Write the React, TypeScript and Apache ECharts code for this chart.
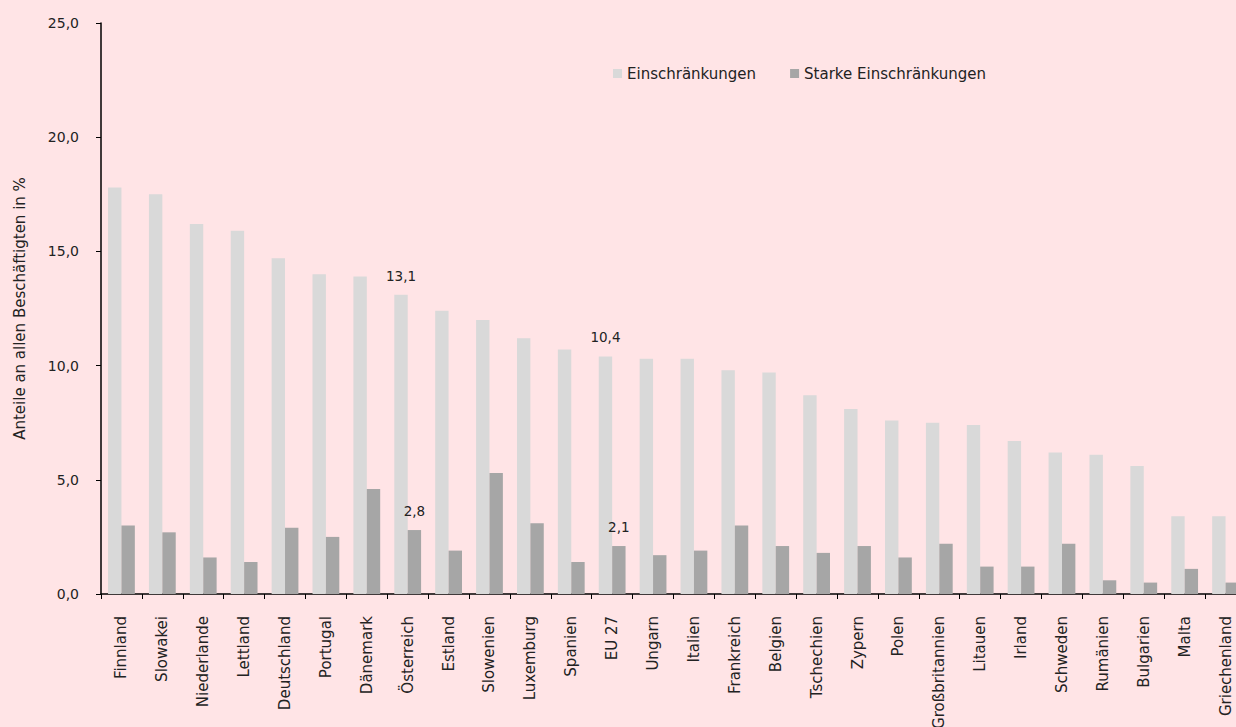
import React, { useEffect, useRef } from "react";
import * as echarts from "echarts";

const categories = [
  "Finnland", "Slowakei", "Niederlande", "Lettland", "Deutschland", "Portugal", "Dänemark",
  "Österreich", "Estland", "Slowenien", "Luxemburg", "Spanien", "EU 27", "Ungarn", "Italien",
  "Frankreich", "Belgien", "Tschechien", "Zypern", "Polen", "Großbritannien", "Litauen",
  "Irland", "Schweden", "Rumänien", "Bulgarien", "Malta", "Griechenland",
];

const einschraenkungen = [
  17.8, 17.5, 16.2, 15.9, 14.7, 14.0, 13.9,
  13.1, 12.4, 12.0, 11.2, 10.7, 10.4, 10.3, 10.3,
  9.8, 9.7, 8.7, 8.1, 7.6, 7.5, 7.4,
  6.7, 6.2, 6.1, 5.6, 3.4, 3.4,
];

const starkeEinschraenkungen = [
  3.0, 2.7, 1.6, 1.4, 2.9, 2.5, 4.6,
  2.8, 1.9, 5.3, 3.1, 1.4, 2.1, 1.7, 1.9,
  3.0, 2.1, 1.8, 2.1, 1.6, 2.2, 1.2,
  1.2, 2.2, 0.6, 0.5, 1.1, 0.5,
];

const labeledCategories = ["Österreich", "EU 27"];
const yTicks = { min: 0, max: 25, interval: 5 };

const FONT = "DejaVu Sans";
const TEXT = "#222222";

function withLabels(values: number[]) {
  return values.map((v, i) =>
    labeledCategories.includes(categories[i])
      ? {
          value: v,
          label: {
            show: true,
            position: "top",
            distance: 12,
            color: TEXT,
            fontFamily: FONT,
            fontSize: 13.5,
            formatter: (p: any) => Number(p.value).toFixed(1).replace(".", ","),
          },
        }
      : v
  );
}

export default function App() {
  const ref = useRef<HTMLDivElement>(null);
  useEffect(() => {
    if (!ref.current) return;
    const chart = echarts.init(ref.current, undefined, { renderer: "svg" });
    chart.setOption({
      animation: false,
      backgroundColor: "#FFE4E6",
      textStyle: { fontFamily: FONT },
      legend: {
        left: 613,
        top: 66,
        padding: 0,
        icon: "rect",
        itemWidth: 9,
        itemHeight: 9,
        itemGap: 34,
        textStyle: { color: TEXT, fontFamily: FONT, fontSize: 15 },
        data: ["Einschränkungen", "Starke Einschränkungen"],
      },
      grid: {
        left: 101,
        top: 23,
        width: 1145,
        height: 571,
        containLabel: false,
        outerBoundsMode: "none",
      },
      xAxis: {
        type: "category",
        data: categories,
        axisLine: { lineStyle: { color: "#000", width: 1.5 } },
        axisTick: { show: true, length: 5, lineStyle: { color: "#000" } },
        axisLabel: {
          interval: 0,
          rotate: 90,
          margin: 22,
          color: TEXT,
          fontFamily: FONT,
          fontSize: 15,
        },
      },
      yAxis: {
        type: "value",
        min: yTicks.min,
        max: yTicks.max,
        interval: yTicks.interval,
        name: "Anteile an allen Beschäftigten in %",
        nameLocation: "middle",
        nameGap: 74,
        nameTextStyle: { color: TEXT, fontFamily: FONT, fontSize: 15 },
        splitLine: { show: false },
        axisLine: { show: true, lineStyle: { color: "#000", width: 1.5 } },
        axisTick: { show: true, length: 5, lineStyle: { color: "#000" } },
        axisLabel: {
          margin: 22,
          color: TEXT,
          fontFamily: FONT,
          fontSize: 14,
          formatter: (v: number) => v.toFixed(1).replace(".", ","),
        },
      },
      series: [
        {
          name: "Einschränkungen",
          type: "bar",
          data: withLabels(einschraenkungen),
          itemStyle: { color: "#D9D9D9" },
          barGap: "0%",
          barCategoryGap: "34.5%",
        },
        {
          name: "Starke Einschränkungen",
          type: "bar",
          data: withLabels(starkeEinschraenkungen),
          itemStyle: { color: "#A6A6A6" },
          barGap: "0%",
          barCategoryGap: "34.5%",
        },
      ],
    });
    return () => chart.dispose();
  }, []);
  return (
    <div
      ref={ref}
      style={{ position: "fixed", left: 0, top: 0, width: 1236, height: 727 }}
    />
  );
}
